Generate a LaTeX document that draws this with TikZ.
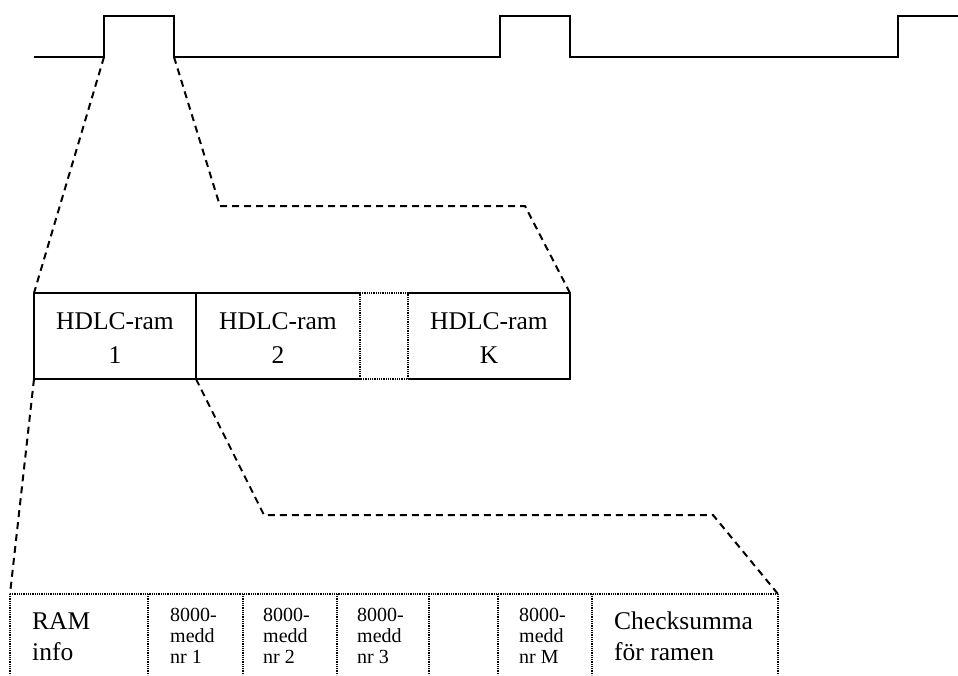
\documentclass[tikz,border=0pt]{standalone}
\usepackage{fontspec}
\setmainfont{Liberation Serif}
\begin{document}
\begin{tikzpicture}[x=1pt,y=-1pt,
  signal/.style={line width=2pt, line join=miter},
  zoomline/.style={line width=2pt, dash pattern=on 7pt off 5pt},
  solidframe/.style={line width=2pt},
  dotframe/.style={line width=2pt, dash pattern=on 1pt off 0.8pt},
  biglabel/.style={font=\fontsize{25.5}{34}\selectfont, align=center, inner sep=0pt},
  leftlabel/.style={font=\fontsize{25.5}{31}\selectfont, align=left, inner sep=0pt, anchor=north west},
  smalllabel/.style={font=\fontsize{20}{21}\selectfont, align=left, inner sep=0pt, anchor=north west}]
\useasboundingbox (0,0) rectangle (958,675);

% pulse train
\coordinate (r1) at (104,57);
\coordinate (f1) at (174,57);
\draw[signal] (34,57) -- (r1) -- (104,16) -- (174,16) -- (f1) -- (500,57)
  -- (500,16) -- (570,16) -- (570,57) -- (898,57) -- (898,16) -- (958,16);

% HDLC frame sequence
\coordinate (m0t) at (34,293);  \coordinate (m0b) at (34,379);
\coordinate (m1t) at (196,293); \coordinate (m1b) at (196,379);
\coordinate (m2t) at (360,293); \coordinate (m2b) at (360,379);
\coordinate (m3t) at (408,293); \coordinate (m3b) at (408,379);
\coordinate (m4t) at (570,293); \coordinate (m4b) at (570,379);
\draw[solidframe] (m2t) -- (m0t) -- (m0b) -- (m2b);
\draw[solidframe] (m1t) -- (m1b);
\draw[solidframe] (m3t) -- (m4t) -- (m4b) -- (m3b);
\draw[dotframe] (m2t) -- (m3t) -- (m3b) -- (m2b) -- cycle;
\node[biglabel] (h1) at (115,338) {HDLC-ram\\1};
\node[biglabel] (h2) at (278,338) {HDLC-ram\\2};
\node[biglabel] (hk) at (489,338) {HDLC-ram\\K};

% contents of one HDLC frame
\coordinate (b0) at (10,594);  \coordinate (b0e) at (10,675);
\coordinate (b1) at (148,594); \coordinate (b1e) at (148,675);
\coordinate (b2) at (243,594); \coordinate (b2e) at (243,675);
\coordinate (b3) at (337,594); \coordinate (b3e) at (337,675);
\coordinate (b4) at (429,594); \coordinate (b4e) at (429,675);
\coordinate (b5) at (498,594); \coordinate (b5e) at (498,675);
\coordinate (b6) at (592,594); \coordinate (b6e) at (592,675);
\coordinate (b7) at (778,594); \coordinate (b7e) at (778,675);
\draw[dotframe] (b0) -- (b7);
\foreach \i in {0,...,7} \draw[dotframe] (b\i) -- (b\i e);

\node[leftlabel]  (ram)  at (32,612)  {RAM\\info};
\node[smalllabel] (msg1) at (170,608) {8000-\\medd\\nr 1};
\node[smalllabel] (msg2) at (263,608) {8000-\\medd\\nr 2};
\node[smalllabel] (msg3) at (357,608) {8000-\\medd\\nr 3};
\node[smalllabel] (msgM) at (519,608) {8000-\\medd\\nr M};
\node[leftlabel]  (chk)  at (614,612) {Checksumma\\för ramen};

% zoom-in guides
\coordinate (u1) at (220,206);
\coordinate (u2) at (525,206);
\draw[zoomline] (r1) -- (m0t);
\draw[zoomline] (f1) -- (u1) -- (u2) -- (m4t);
\coordinate (l1) at (264,515);
\coordinate (l2) at (713,515);
\draw[zoomline] (m0b) -- (b0);
\draw[zoomline] (m1b) -- (l1) -- (l2) -- (b7);
\end{tikzpicture}
\end{document}
